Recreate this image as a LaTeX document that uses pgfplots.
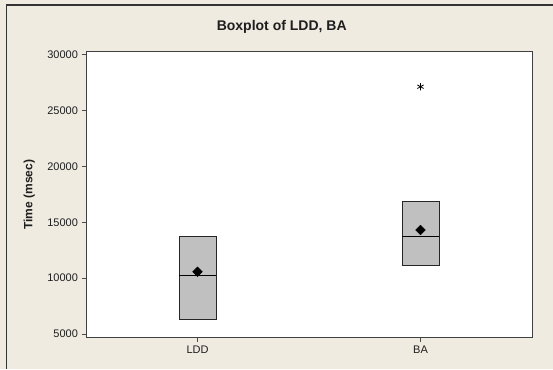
\documentclass[border=0pt]{standalone}
\usepackage{fontspec}
\setmainfont{Liberation Sans}
\usepackage{pgfplots}
\pgfplotsset{compat=1.18}
\definecolor{bgc}{RGB}{239,235,225}
\definecolor{boxc}{RGB}{192,192,192}
\definecolor{txt}{RGB}{30,30,30}
\begin{document}
\begin{tikzpicture}
\fill[bgc] (0pt,0pt) rectangle (553pt,369pt);
\draw[black!80, line width=1.3pt] (6.6pt,0pt) -- (6.6pt,364pt) -- (553pt,364pt);
\begin{axis}[
  at={(86pt,31.3pt)}, anchor=south west,
  scale only axis, width=446pt, height=286pt,
  xmin=0.5, xmax=2.5, ymin=4669, ymax=30269,
  axis background/.style={fill=white},
  axis line style={black!75, line width=0.9pt},
  xtick={1,2}, xticklabels={LDD,BA},
  ytick={5000,10000,15000,20000,25000,30000},
  scaled y ticks=false,
  yticklabel style={/pgf/number format/fixed, /pgf/number format/precision=0},
  tick pos=left, tick align=outside,
  major tick length=4.5pt,
  tick style={black!70, line width=0.6pt},
  /pgf/number format/1000 sep={},
  /pgf/number format/assume math mode=true,
  ticklabel style={font=\fontsize{11}{13}\selectfont, text=txt},
  title={Boxplot of LDD, BA},
  title style={at={(axis description cs:0.4388,1)}, anchor=base, yshift=15pt,
    font=\bfseries\fontsize{14}{16}\selectfont, text=txt},
  ylabel={Time (msec)},
  ylabel style={at={(axis description cs:-0.127,0.5)}, anchor=center,
    font=\bfseries\fontsize{12}{14}\selectfont, text=txt},
]
% boxes (Q1 to Q3)
\addplot[draw=black!85, fill=boxc, line width=0.8pt] coordinates
  {(0.9175,6343) (1.0825,6343) (1.0825,13772) (0.9175,13772)} -- cycle;
\addplot[draw=black!85, fill=boxc, line width=0.8pt] coordinates
  {(1.9175,11176) (2.0825,11176) (2.0825,16842) (1.9175,16842)} -- cycle;
% medians
\addplot[black, line width=0.8pt] coordinates {(0.9175,10254) (1.0825,10254)};
\addplot[black, line width=0.8pt] coordinates {(1.9175,13772) (2.0825,13772)};
% means
\addplot[only marks, mark=square*, mark size=3.4pt, black,
  mark options={rotate=45}] coordinates {(1,10576) (2,14309)};
% outlier
\addplot[only marks, mark=asterisk, mark size=3.6pt, black,
  mark options={line width=0.8pt}] coordinates {(2,27136)};
\end{axis}
\pgfresetboundingbox
\useasboundingbox (0pt,0pt) rectangle (553pt,369pt);
\end{tikzpicture}
\end{document}
